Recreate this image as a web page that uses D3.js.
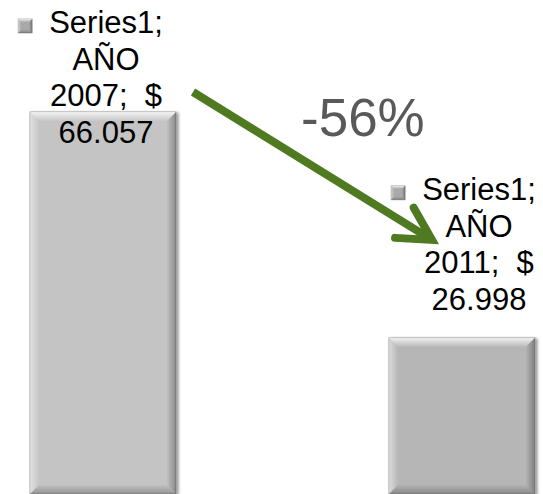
<!DOCTYPE html>
<html>
<head>
<meta charset="utf-8">
<script src="https://cdn.jsdelivr.net/npm/d3@7"></script>
<style>
  html, body { margin: 0; padding: 0; background: #ffffff; overflow: hidden; }
  svg { display: block; }
  text { font-family: "Liberation Sans", Arial, sans-serif; }
</style>
</head>
<body>
<div id="chart"></div>
<script>
// Chart data
const seriesName = "Series1";
const categories = ["AÑO 2007", "AÑO 2011"];
const values = [66057, 26998];
const changeLabel = "-56%";
const barFills = ["#c4c4c4", "#b6b6b6"];

const W = 543, H = 494;
const baseline = 494;

const svg = d3.select("#chart").append("svg")
  .attr("width", W).attr("height", H);

const defs = svg.append("defs");

// soft drop shadow for the bars
const shadow = defs.append("filter").attr("id", "shadow")
  .attr("x", "-10%").attr("y", "-10%").attr("width", "130%").attr("height", "130%");
shadow.append("feGaussianBlur").attr("in", "SourceAlpha").attr("stdDeviation", 1.6).attr("result", "b");
shadow.append("feOffset").attr("in", "b").attr("dx", 1.5).attr("dy", 1).attr("result", "o");
shadow.append("feComponentTransfer").attr("in", "o").attr("result", "s")
  .append("feFuncA").attr("type", "linear").attr("slope", 0.45);
const merge = shadow.append("feMerge");
merge.append("feMergeNode").attr("in", "s");
merge.append("feMergeNode").attr("in", "SourceGraphic");

function grad(id, x1, y1, x2, y2, stops) {
  const g = defs.append("linearGradient").attr("id", id)
    .attr("x1", x1).attr("y1", y1).attr("x2", x2).attr("y2", y2);
  stops.forEach(s => g.append("stop").attr("offset", s[0]).attr("stop-color", s[1]).attr("stop-opacity", s[2] == null ? 1 : s[2]));
}
// bevel bands: light on top/left, dark on right/bottom
grad("bevTop", 0, 0, 0, 1, [[0, "#ffffff", 0.8], [1, "#ffffff", 0.05]]);
grad("bevLeft", 0, 0, 1, 0, [[0, "#ffffff", 0.5], [1, "#ffffff", 0.02]]);
grad("bevRight", 1, 0, 0, 0, [[0, "#000000", 0.3], [1, "#000000", 0.02]]);
grad("bevBottom", 0, 1, 0, 0, [[0, "#000000", 0.25], [1, "#000000", 0.02]]);

// scales
const x = d3.scaleBand()
  .domain(categories)
  .range([0, 565])
  .paddingInner(0.5933)
  .paddingOuter(0.0836);

const y = d3.scaleLinear()
  .domain([0, 70000])
  .range([baseline, 89.2]);

const bw = x.bandwidth();

// draws a bevelled gray box (used for bars and legend keys)
function bevelPolys(x0, y0, x1, y1, b) {
  return [
    { id: "bevTop", pts: [[x0, y0], [x1, y0], [x1 - b, y0 + b], [x0 + b, y0 + b]] },
    { id: "bevLeft", pts: [[x0, y0], [x0 + b, y0 + b], [x0 + b, y1 - b], [x0, y1]] },
    { id: "bevRight", pts: [[x1, y0], [x1, y1], [x1 - b, y1 - b], [x1 - b, y0 + b]] },
    { id: "bevBottom", pts: [[x0, y1], [x0 + b, y1 - b], [x1 - b, y1 - b], [x1, y1]] }
  ];
}
function drawBevel(g, polys) {
  g.selectAll("polygon.bev")
    .data(polys)
    .join("polygon").attr("class", "bev")
    .attr("points", p => p.pts.map(q => q.join(",")).join(" "))
    .attr("fill", p => `url(#${p.id})`);
}

const bars = svg.append("g").selectAll("g.bar")
  .data(categories.map((c, i) => ({ cat: c, value: values[i], fill: barFills[i] })))
  .join("g").attr("class", "bar");

bars.append("rect")
  .attr("x", d => x(d.cat))
  .attr("y", d => y(d.value))
  .attr("width", bw)
  .attr("height", d => baseline - y(d.value))
  .attr("fill", d => d.fill)
  .attr("stroke", "#8f8f8f")
  .attr("stroke-width", 0.8)
  .attr("filter", "url(#shadow)");

bars.each(function (d) {
  drawBevel(d3.select(this), bevelPolys(x(d.cat), y(d.value), x(d.cat) + bw, baseline, 9));
});

// data labels
const fmt = d3.formatLocale({ decimal: ",", thousands: ".", grouping: [3], currency: ["$", ""] }).format(",d");
const labelDx = [3, 17];
const lineH = 36.7;

const labels = svg.append("g").selectAll("g.lbl")
  .data(categories.map((c, i) => ({ cat: c, value: values[i], i })))
  .join("g").attr("class", "lbl")
  .attr("transform", d => {
    const cx = x(d.cat) + bw / 2 + labelDx[d.i];
    const top = Math.max(33, y(d.value) - 138);
    return `translate(${cx},${top})`;
  });

labels.each(function (d) {
  const g = d3.select(this);
  const parts = d.cat.split(" ");
  const lines = [seriesName + ";", parts[0], parts[1] + ";\u00a0 $", fmt(d.value)];
  g.selectAll("text").data(lines).join("text")
    .attr("x", 0)
    .attr("y", (t, k) => k * lineH)
    .attr("text-anchor", "middle")
    .attr("font-size", 31)
    .attr("fill", "#000000")
    .text(t => t);
  // legend key square in front of the first line
  const w0 = g.select("text").node().getComputedTextLength();
  const kx = -w0 / 2 - 31, ky = -14, ks = 14;
  const key = g.append("g");
  key.append("rect")
    .attr("x", kx).attr("y", ky)
    .attr("width", ks).attr("height", ks)
    .attr("fill", "#a9a9a9")
    .attr("stroke", "#8a8a8a").attr("stroke-width", 0.6);
  drawBevel(key, bevelPolys(kx, ky, kx + ks, ky + ks, 3));
});

// change annotation: arrow between the two bars
const a0 = [x(categories[0]) + bw + 17, y(values[0]) - 20];
const a1 = [x(categories[1]) + 43, y(values[1]) - 98];
const ang = Math.atan2(a1[1] - a0[1], a1[0] - a0[0]);
const headLen = 37, headAng = 0.5;
const h1 = [a1[0] - headLen * Math.cos(ang - headAng), a1[1] - headLen * Math.sin(ang - headAng)];
const h2 = [a1[0] - headLen * Math.cos(ang + headAng), a1[1] - headLen * Math.sin(ang + headAng)];

const arrow = svg.append("g").attr("fill", "none").attr("stroke", "#4f7a21").attr("stroke-width", 8);
arrow.append("path")
  .attr("d", d3.line()([a0, a1]))
  .attr("stroke-linecap", "butt");
arrow.append("path")
  .attr("d", d3.line()([h1, a1, h2]))
  .attr("stroke-linecap", "round")
  .attr("stroke-linejoin", "miter");

svg.append("text")
  .attr("x", 301)
  .attr("y", 136)
  .attr("font-size", 53)
  .attr("fill", "#595959")
  .text(changeLabel);
</script>
</body>
</html>
